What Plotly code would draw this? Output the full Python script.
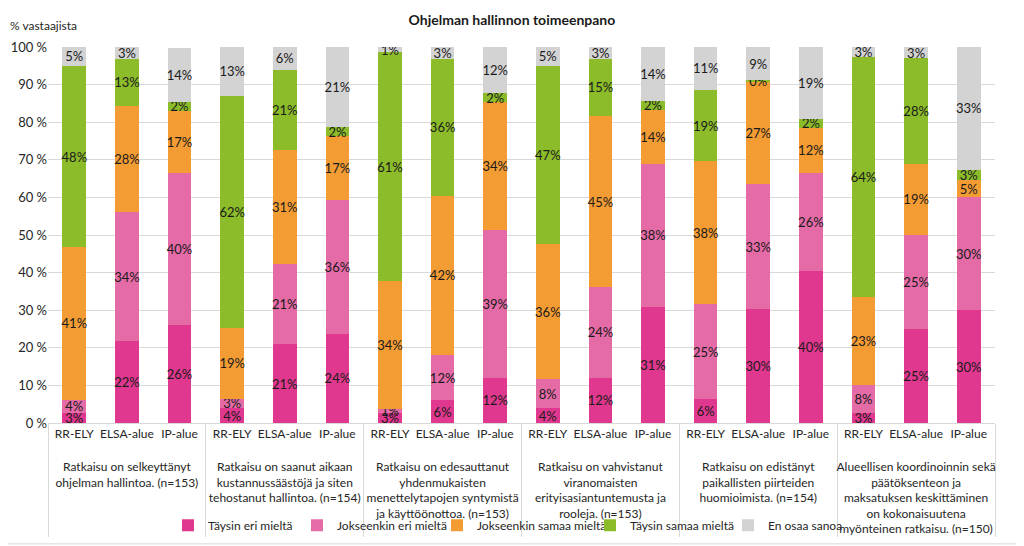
import plotly.graph_objects as go

groups = [
    "Ratkaisu on selkeyttänyt<br>ohjelman hallintoa. (n=153)",
    "Ratkaisu on saanut aikaan<br>kustannussäästöjä ja siten<br>tehostanut hallintoa. (n=154)",
    "Ratkaisu on edesauttanut<br>yhdenmukaisten<br>menettelytapojen syntymistä<br>ja käyttöönottoa. (n=153)",
    "Ratkaisu on vahvistanut<br>viranomaisten<br>erityisasiantuntemusta ja<br>rooleja. (n=153)",
    "Ratkaisu on edistänyt<br>paikallisten piirteiden<br>huomioimista. (n=154)",
    "Alueellisen koordinoinnin sekä<br>päätöksenteon ja<br>maksatuksen keskittäminen<br>on kokonaisuutena<br>myönteinen ratkaisu. (n=150)",
]
areas = ["RR-ELY", "ELSA-alue", "IP-alue"]

series_names = ["Täysin eri mieltä", "Jokseenkin eri mieltä", "Jokseenkin samaa mieltä",
                "Täysin samaa mieltä", "En osaa sanoa"]

# values per bar (group order x area order)
taysin_eri = [2.6, 21.9, 26.0, 3.9, 21.0, 23.7, 2.6, 6.0, 12.1, 3.9, 12.1, 30.8, 6.3, 30.2, 40.4, 2.6, 25.0, 30.0]
jokseenkin_eri = [3.6, 34.1, 40.4, 2.6, 21.2, 35.6, 1.0, 12.1, 39.2, 7.8, 24.1, 38.2, 25.3, 33.3, 26.2, 7.6, 25.0, 30.0]
jokseenkin_samaa = [40.6, 28.3, 16.7, 18.8, 30.5, 16.9, 34.2, 42.4, 34.0, 35.9, 45.4, 14.3, 38.0, 27.4, 11.9, 23.2, 19.0, 4.7]
taysin_samaa = [48.1, 12.6, 2.4, 61.7, 21.2, 2.4, 60.8, 36.3, 2.4, 47.4, 15.3, 2.4, 19.0, 0.3, 2.4, 64.0, 28.0, 2.7]
en_osaa = [5.2, 3.1, 14.3, 13.0, 6.1, 21.4, 1.4, 3.1, 12.3, 5.2, 3.1, 14.3, 11.4, 8.8, 19.1, 2.6, 3.0, 32.6]

colors = ["#E0388E", "#E56BA7", "#F39C34", "#8CBC2A", "#D3D3D3"]
legend_widths = [84, 95, 108, 93, 80]

x_group = ["<br>" + g for g in groups for _ in areas]
x_area = [a for _ in groups for a in areas]

FONT = "Lato, sans-serif"

fig = go.Figure()
for name, vals, col, lw in zip(series_names,
                               [taysin_eri, jokseenkin_eri, jokseenkin_samaa, taysin_samaa, en_osaa],
                               colors, legend_widths):
    fig.add_trace(go.Bar(
        x=[x_group, x_area], y=vals, name=name, marker_color=col,
        marker_line_width=0, legendwidth=lw,
        texttemplate="%{y:.0f}%", textposition="inside", insidetextanchor="middle",
        textangle=0, constraintext="none",
        textfont=dict(family=FONT, size=13, color="#1a1a1a"),
    ))

# page has an 8px body margin, so the figure is 1016x538 placed at (8, 8)
fig.update_layout(
    barmode="stack", bargap=0.55,
    width=1016, height=538,
    margin=dict(l=40, r=29, t=39, b=123, autoexpand=False),
    paper_bgcolor="white", plot_bgcolor="white",
    font=dict(family=FONT, size=13, color="#262626"),
    title=dict(text="<b>Ohjelman hallinnon toimeenpano</b>", x=0.496, xanchor="center",
               y=0.978, yanchor="middle", font=dict(size=14, color="#1a1a1a")),
    legend=dict(orientation="h", x=0.1267, xanchor="left", y=-0.272, yanchor="middle",
                font=dict(size=12, color="#262626"), bgcolor="rgba(0,0,0,0)",
                traceorder="normal", itemwidth=30),
    showlegend=True,
)
fig.update_yaxes(range=[0, 100], dtick=10, ticksuffix=" %", showgrid=True,
                 gridcolor="#D9D9D9", gridwidth=1, zeroline=False, automargin=False,
                 showline=False, tickfont=dict(size=13, color="#262626"))
fig.update_xaxes(type="multicategory", showline=True, linecolor="#D9D9D9",
                 showdividers=True, dividercolor="#D9D9D9", dividerwidth=1,
                 tickangle=0, automargin=False,
                 tickfont=dict(size=12, color="#262626"), ticks="")
fig.add_annotation(text="% vastaajista", xref="paper", yref="paper", x=-0.042, y=1.057,
                   xanchor="left", yanchor="middle", showarrow=False,
                   font=dict(size=12, color="#262626"))
fig.add_shape(type="line", xref="paper", yref="paper", x0=1.0285, x1=1.0285, y0=-0.3214, y1=1.11,
              line=dict(color="#D9D9D9", width=1))
fig.add_shape(type="line", xref="paper", yref="paper", x0=-0.05, x1=1.0285, y0=-0.3214, y1=-0.3214,
              line=dict(color="#D9D9D9", width=1))
fig.write_html("out.html")
